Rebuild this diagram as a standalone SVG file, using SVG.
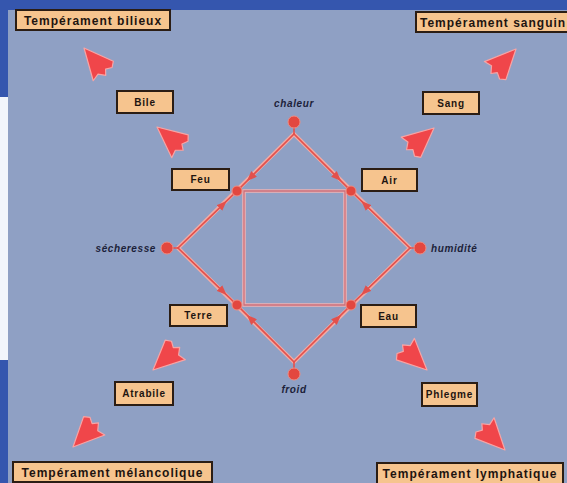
<svg xmlns="http://www.w3.org/2000/svg" width="567" height="483" viewBox="0 0 567 483">
<style>
.box{fill:#f6c48e;stroke:#2b1d14;stroke-width:2}
.big{font-family:"Liberation Sans",Arial,sans-serif;font-weight:bold;font-size:12px;letter-spacing:1px;fill:#1e1410;text-anchor:middle}
.sm{font-family:"Liberation Sans",Arial,sans-serif;font-weight:bold;font-size:10px;letter-spacing:0.8px;fill:#1e1410;text-anchor:middle}
.q{font-family:"Liberation Sans",Arial,sans-serif;font-weight:bold;font-style:italic;font-size:10px;letter-spacing:0.6px;fill:#1c1f3a}
.halo{fill:none;stroke:#f3aaa4;stroke-width:4;stroke-linecap:round}
.edge{fill:none;stroke:#e2504c;stroke-width:1.6;stroke-linecap:round}
.sqh{fill:none;stroke:#efb2b4;stroke-width:3.5}
.sq{fill:none;stroke:#c9707c;stroke-width:1.3}
.dot{fill:#e3473f;stroke:#f08a80;stroke-width:1}
.dart{fill:#f0464a;stroke:#f8a4a4;stroke-width:1.2;stroke-linejoin:round}
</style>
<defs>
<marker id="ah" viewBox="0 0 10 8" refX="8" refY="4" markerWidth="10" markerHeight="8" markerUnits="userSpaceOnUse" orient="auto">
<path d="M0,0 L10,4 L0,8 z" fill="#e2504c"/>
</marker>
<path id="dartShape" class="dart" d="M0,0 L-31,-14 L-29,-6 L-35,-1 L-30,3 L-33,9 L-29,14 Z"/>
</defs>
<rect x="0" y="0" width="567" height="483" fill="#3556ae"/>
<rect x="0" y="97" width="10" height="263" fill="#f2f5fb"/>
<rect x="8" y="10" width="559" height="473" fill="#8fa0c4"/>
<g id="connectors">
<path class="sqh" d="M244,191 H345 V305 H244 Z"/>
<path class="sq" d="M244,191 H345 V305 H244 Z"/>
<path class="halo" d="M294,134 L178,248 L294,362 L410,248 Z"/>
<path class="edge" d="M294,134 L248.4,179.6 L237,191" marker-mid="url(#ah)"/>
<path class="edge" d="M294,134 L339.6,179.6 L351,191" marker-mid="url(#ah)"/>
<path class="edge" d="M178,248 L225.2,202.4 L237,191" marker-mid="url(#ah)"/>
<path class="edge" d="M178,248 L225.2,293.6 L237,305" marker-mid="url(#ah)"/>
<path class="edge" d="M410,248 L362.8,202.4 L351,191" marker-mid="url(#ah)"/>
<path class="edge" d="M410,248 L362.8,293.6 L351,305" marker-mid="url(#ah)"/>
<path class="edge" d="M294,362 L248.4,316.4 L237,305" marker-mid="url(#ah)"/>
<path class="edge" d="M294,362 L339.6,316.4 L351,305" marker-mid="url(#ah)"/>
<line x1="294" y1="128" x2="294" y2="134" class="edge"/>
<line x1="173" y1="248" x2="178" y2="248" class="edge"/>
<line x1="410" y1="248" x2="414" y2="248" class="edge"/>
<line x1="294" y1="362" x2="294" y2="368" class="edge"/>
<use href="#dartShape" transform="translate(84,48) rotate(-130)"/>
<use href="#dartShape" transform="translate(157,127) rotate(-140)"/>
<use href="#dartShape" transform="translate(434,128) rotate(-40)"/>
<use href="#dartShape" transform="translate(516,49) rotate(-46)"/>
<use href="#dartShape" transform="translate(153,370) rotate(138)"/>
<use href="#dartShape" transform="translate(73,447) rotate(135)"/>
<use href="#dartShape" transform="translate(427,370) rotate(44)"/>
<use href="#dartShape" transform="translate(505,450) rotate(47)"/>
</g>
<g id="chaleur"><circle class="dot" cx="294" cy="122" r="6"/><text class="q" x="294" y="107" style="text-anchor:middle">chaleur</text></g>
<g id="secheresse"><circle class="dot" cx="167" cy="248" r="6"/><text class="q" x="156" y="252" style="text-anchor:end">sécheresse</text></g>
<g id="humidite"><circle class="dot" cx="420" cy="248" r="6"/><text class="q" x="431" y="252">humidité</text></g>
<g id="froid"><circle class="dot" cx="294" cy="374" r="6"/><text class="q" x="294" y="393" style="text-anchor:middle">froid</text></g>
<g id="feu"><circle class="dot" cx="237" cy="191" r="5"/><rect class="box" x="172" y="169" width="57" height="21"/><text class="sm" x="200.5" y="183">Feu</text></g>
<g id="air"><circle class="dot" cx="351" cy="191" r="5"/><rect class="box" x="362" y="169" width="55" height="22"/><text class="sm" x="389.5" y="183.5">Air</text></g>
<g id="terre"><circle class="dot" cx="237" cy="305" r="5"/><rect class="box" x="170" y="305" width="57" height="21"/><text class="sm" x="198.5" y="319">Terre</text></g>
<g id="eau"><circle class="dot" cx="351" cy="305" r="5"/><rect class="box" x="361" y="305" width="55" height="22"/><text class="sm" x="388.5" y="319.5">Eau</text></g>
<g id="bile"><rect class="box" x="117" y="91" width="56" height="22"/><text class="sm" x="145" y="105.5">Bile</text></g>
<g id="sang"><rect class="box" x="423" y="92" width="56" height="22"/><text class="sm" x="451" y="106.5">Sang</text></g>
<g id="atrabile"><rect class="box" x="115" y="382" width="58" height="23"/><text class="sm" x="144" y="397">Atrabile</text></g>
<g id="phlegme"><rect class="box" x="422" y="383" width="55" height="23"/><text class="sm" x="449.5" y="398">Phlegme</text></g>
<g id="bilieux"><rect class="box" x="16" y="10" width="154" height="20"/><text class="big" x="93" y="24.5">Tempérament bilieux</text></g>
<g id="sanguin"><rect class="box" x="416" y="12" width="160" height="20"/><text class="big" x="420" y="26.5" style="text-anchor:start">Tempérament sanguin</text></g>
<g id="melancolique"><rect class="box" x="13" y="462" width="199" height="20"/><text class="big" x="112.5" y="476.5">Tempérament mélancolique</text></g>
<g id="lymphatique"><rect class="box" x="377" y="463" width="186" height="22"/><text class="big" x="470" y="477.5">Tempérament lymphatique</text></g>
</svg>
